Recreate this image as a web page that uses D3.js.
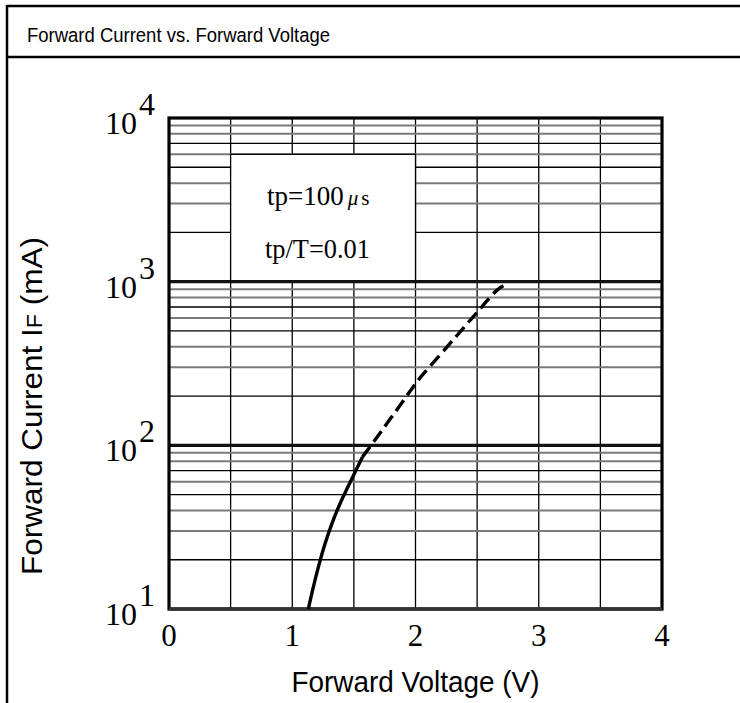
<!DOCTYPE html>
<html>
<head>
<meta charset="utf-8">
<script src="https://cdn.jsdelivr.net/npm/d3@7"></script>
<style>
  body { margin: 0; background: #fff; }
  svg { display: block; }
</style>
</head>
<body>
<svg id="chart"></svg>
<script>
// Curve data (V, mA)
const vfSolid = [1.13, 1.17, 1.21, 1.26, 1.33, 1.41, 1.49, 1.57];
const ifSolid = [10, 13.6, 17.9, 24.5, 35, 48.3, 64, 85];
const vfDashed = [1.57, 1.66, 1.79, 1.98, 2.04, 2.20, 2.34, 2.46, 2.55, 2.67, 2.73];
const ifDashed = [85, 105, 143, 227, 262, 357, 472, 600, 720, 914, 955];

const xTicks = [0, 1, 2, 3, 4];
const yDecades = [1, 2, 3, 4];
const titleText = "Forward Current vs. Forward Voltage";
const noteLines = ["tp=100", "tp/T=0.01"];

const width = 740, height = 703;
const svg = d3.select("#chart").attr("width", width).attr("height", height);

// Frame with title row
svg.append("line").attr("x1", 7).attr("x2", width).attr("y1", 6).attr("y2", 6)
    .attr("stroke", "#000").attr("stroke-width", 2.5);
svg.append("line").attr("x1", 7).attr("x2", width).attr("y1", 57).attr("y2", 57)
    .attr("stroke", "#000").attr("stroke-width", 2.5);
svg.append("line").attr("x1", 7).attr("x2", 7).attr("y1", 5).attr("y2", height)
    .attr("stroke", "#000").attr("stroke-width", 2.5);

svg.append("text")
    .attr("x", 27).attr("y", 42)
    .attr("font-family", "Liberation Sans, Arial, sans-serif")
    .attr("font-size", 20.5)
    .attr("textLength", 303).attr("lengthAdjust", "spacingAndGlyphs")
    .text(titleText);

// Scales
const x = d3.scaleLinear().domain([0, 4]).range([169, 662]);
const y = d3.scaleLog().domain([10, 10000]).range([609, 118]);

const mantissa = d => Math.round(d / Math.pow(10, Math.floor(Math.log10(d) + 1e-9)));
const darkMinor = [2, 5, 7];

const grid = svg.append("g");

// vertical grid lines every 0.5 V
grid.selectAll("line.v")
    .data(d3.range(0.5, 4, 0.5))
    .enter().append("line")
    .attr("x1", d => x(d)).attr("x2", d => x(d))
    .attr("y1", y(10000)).attr("y2", y(10))
    .attr("stroke", "#000").attr("stroke-width", 1.3);

// horizontal minor grid lines (2..9 x 10^n)
grid.selectAll("line.h")
    .data(y.ticks().filter(d => mantissa(d) !== 1))
    .enter().append("line")
    .attr("x1", x(0)).attr("x2", x(4))
    .attr("y1", d => y(d)).attr("y2", d => y(d))
    .attr("stroke", d => darkMinor.includes(mantissa(d)) ? "#000" : "#7a7a7a")
    .attr("stroke-width", d => darkMinor.includes(mantissa(d)) ? 1.3 : 2);

// annotation box (covers the grid)
svg.append("rect")
    .attr("x", x(0.5)).attr("y", y(6000))
    .attr("width", x(2) - x(0.5)).attr("height", y(1000) - y(6000))
    .attr("fill", "#fff").attr("stroke", "#000").attr("stroke-width", 1.3);

const note = svg.append("g")
    .attr("font-family", "Liberation Serif, Times New Roman, serif")
    .attr("font-size", 27);
const n1 = note.append("text").attr("x", 267).attr("y", 205);
n1.append("tspan").text(noteLines[0]);
n1.append("tspan").attr("dx", 4).attr("font-size", 21).attr("font-style", "italic").text("\u03bc");
n1.append("tspan").attr("dx", 3).attr("font-size", 21).text("s");
note.append("text").attr("x", 265).attr("y", 258)
    .attr("textLength", 105).attr("lengthAdjust", "spacingAndGlyphs")
    .text(noteLines[1]);

// major decade lines
svg.selectAll("line.major")
    .data([100, 1000])
    .enter().append("line")
    .attr("x1", x(0)).attr("x2", x(4))
    .attr("y1", d => y(d)).attr("y2", d => y(d))
    .attr("stroke", "#111").attr("stroke-width", 3.2);

// plot border
svg.append("rect")
    .attr("x", x(0)).attr("y", y(10000))
    .attr("width", x(4) - x(0)).attr("height", y(10) - y(10000))
    .attr("fill", "none").attr("stroke", "#000").attr("stroke-width", 3.2);
svg.append("line")
    .attr("x1", x(0)).attr("x2", x(4)).attr("y1", y(10)).attr("y2", y(10))
    .attr("stroke", "#333").attr("stroke-width", 3.5);

// curve
const line = d3.line()
    .x(d => x(d[0]))
    .y(d => y(d[1]))
    .curve(d3.curveBasis);

svg.append("path")
    .datum(d3.zip(vfSolid, ifSolid))
    .attr("d", line)
    .attr("fill", "none").attr("stroke", "#000").attr("stroke-width", 3.4);

svg.append("path")
    .datum(d3.zip(vfDashed, ifDashed))
    .attr("d", line)
    .attr("fill", "none").attr("stroke", "#000").attr("stroke-width", 3.4)
    .attr("stroke-dasharray", "13,6");

// x tick labels
svg.append("g")
    .attr("font-family", "Liberation Serif, Times New Roman, serif")
    .attr("font-size", 31)
    .attr("text-anchor", "middle")
    .selectAll("text")
    .data(xTicks)
    .enter().append("text")
    .attr("x", d => x(d))
    .attr("y", y(10) + 37)
    .text(d => d);

// y tick labels 10^n
const yl = svg.append("g")
    .attr("font-family", "Liberation Serif, Times New Roman, serif")
    .attr("font-size", 32)
    .selectAll("g")
    .data(yDecades)
    .enter().append("g");
yl.append("text")
    .attr("x", 137).attr("y", d => y(Math.pow(10, d)) + 16)
    .attr("text-anchor", "end")
    .text("10");
yl.append("text")
    .attr("x", 139).attr("y", d => y(Math.pow(10, d)) - 3)
    .text(d => d);

// axis titles
svg.append("text")
    .attr("x", x(2)).attr("y", 692)
    .attr("text-anchor", "middle")
    .attr("font-family", "Liberation Sans, Arial, sans-serif")
    .attr("font-size", 29)
    .attr("textLength", 248).attr("lengthAdjust", "spacingAndGlyphs")
    .text("Forward Voltage (V)");

const yt = svg.append("text")
    .attr("transform", "translate(42,406) rotate(-90)")
    .attr("text-anchor", "middle")
    .attr("font-family", "Liberation Sans, Arial, sans-serif")
    .attr("font-size", 30)
    .attr("textLength", 338).attr("lengthAdjust", "spacingAndGlyphs");
yt.append("tspan").text("Forward Current I");
yt.append("tspan").attr("font-size", 22).text("F");
yt.append("tspan").text(" (mA)");
</script>
</body>
</html>
